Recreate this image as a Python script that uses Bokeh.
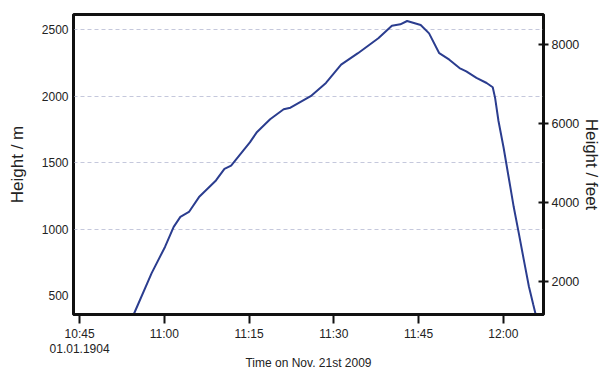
from bokeh.plotting import figure
from bokeh.models import Range1d, LinearAxis, FixedTicker
from bokeh.embed import file_html
from bokeh.resources import INLINE

# Clock times (Nov. 21st 2009) and height in metres
clock = ["10:54:00", "10:54:34", "10:57:45", "11:00:08", "11:01:39", "11:02:50",
         "11:04:21", "11:06:08", "11:09:08", "11:10:38", "11:11:49", "11:15:08",
         "11:16:19", "11:18:43", "11:21:07", "11:22:19", "11:25:54", "11:28:36",
         "11:31:17", "11:34:16", "11:37:52", "11:40:16", "11:41:46", "11:42:58",
         "11:45:22", "11:46:51", "11:48:39", "11:50:26", "11:52:14", "11:53:26",
         "11:55:14", "11:57:02", "11:58:07", "11:58:32", "11:59:08", "12:00:02",
         "12:00:56", "12:01:50", "12:02:44", "12:03:37", "12:04:31", "12:05:17",
         "12:05:43", "12:06:00"]
height_m = [300, 358, 669, 868, 1017, 1092,
            1129, 1241, 1366, 1453, 1478, 1652,
            1726, 1826, 1901, 1913, 2000, 2099,
            2237, 2323, 2435, 2530, 2540, 2565,
            2535, 2472, 2323, 2274, 2211, 2186,
            2137, 2099, 2067, 1987, 1813, 1614,
            1390, 1166, 968, 769, 569, 433,
            358, 300]

x_ticks = [0, 15, 30, 45, 60, 75]
x_tick_labels = ["10:45", "11:00", "11:15", "11:30", "11:45", "12:00"]
first_tick_date = "01.01.1904"
y_ticks_m = [500, 1000, 1500, 2000, 2500]
y_ticks_ft = [2000, 4000, 6000, 8000]


def minutes_after_1045(s):
    h, m, sec = (int(v) for v in s.split(":"))
    return (h * 60 + m + sec / 60.0) - (10 * 60 + 45)


t = [minutes_after_1045(s) for s in clock]

FONT = "Liberation Sans"
TXT = "#222222"

p = figure(width=604, height=372, output_backend="svg", toolbar_location=None,
           x_range=Range1d(-1.08, 82.1), y_range=Range1d(358, 2614),
           min_border_left=73, min_border_right=60, min_border_top=14,
           min_border_bottom=57, y_axis_location="left")
p.outline_line_color = "#111111"
p.outline_line_width = 3
p.background_fill_color = "white"
p.border_fill_color = "white"

p.line(t, height_m, line_color="#2b3d8f", line_width=2)

# x axis (times)
xa = p.xaxis[0]
xa.ticker = FixedTicker(ticks=x_ticks)
xa.major_label_overrides = {k: v for k, v in zip(x_ticks, x_tick_labels)}
xa.minor_tick_line_color = None
xa.major_tick_in = 0
xa.major_tick_out = 9
xa.major_tick_line_width = 2
xa.major_tick_line_color = "#111111"
xa.axis_line_width = 3
xa.axis_line_color = "#111111"
xa.major_label_text_font = FONT
xa.major_label_text_font_size = "12px"
xa.major_label_text_color = TXT
xa.major_label_standoff = 3

# second x axis below: date under the first tick, plus the axis title
xb = LinearAxis()
xb.ticker = FixedTicker(ticks=[x_ticks[0]])
xb.major_label_overrides = {x_ticks[0]: first_tick_date}
xb.minor_tick_line_color = None
xb.major_tick_line_color = None
xb.major_tick_in = 0
xb.major_tick_out = 0
xb.axis_line_color = None
xb.major_label_text_font = FONT
xb.major_label_text_font_size = "12px"
xb.major_label_text_color = TXT
xb.major_label_standoff = 0
xb.axis_label = "Time on Nov. 21st 2009"
xb.axis_label_text_font = FONT
xb.axis_label_text_font_size = "12px"
xb.axis_label_text_font_style = "normal"
xb.axis_label_text_color = TXT
xb.axis_label_standoff = 0
p.add_layout(xb, "below")

# left axis
ya = p.yaxis[0]
ya.ticker = FixedTicker(ticks=y_ticks_m)
ya.minor_tick_line_color = None
ya.major_tick_in = 0
ya.major_tick_out = 0
ya.axis_line_width = 2
ya.axis_line_color = "#111111"
ya.major_label_text_font = FONT
ya.major_label_text_font_size = "12px"
ya.major_label_text_color = TXT
ya.major_label_standoff = 5
ya.axis_label = "Height / m"
ya.axis_label_text_font = FONT
ya.axis_label_text_font_size = "17px"
ya.axis_label_text_font_style = "normal"
ya.axis_label_text_color = TXT
ya.axis_label_standoff = 12

# right axis (feet)
p.extra_y_ranges = {"ft": Range1d(1158, 8766)}
ra = LinearAxis(y_range_name="ft")
ra.ticker = FixedTicker(ticks=y_ticks_ft)
ra.minor_tick_line_color = None
ra.major_tick_in = 5
ra.major_tick_out = 5
ra.major_tick_line_width = 2
ra.major_tick_line_color = "#111111"
ra.axis_line_width = 2
ra.axis_line_color = "#111111"
ra.major_label_text_font = FONT
ra.major_label_text_font_size = "12.5px"
ra.major_label_text_color = TXT
ra.major_label_standoff = 3
ra.axis_label = "Height / feet"
ra.axis_label_text_font = FONT
ra.axis_label_text_font_size = "17px"
ra.axis_label_text_font_style = "normal"
ra.axis_label_text_color = TXT
ra.axis_label_standoff = 0
p.add_layout(ra, "right")

# grid
p.xgrid.grid_line_color = None
p.ygrid.ticker = FixedTicker(ticks=[1000, 1500, 2000, 2500])
p.ygrid.grid_line_color = "#c5c8dc"
p.ygrid.grid_line_dash = "4 3"
p.ygrid.grid_line_width = 1

open("out.html", "w").write(file_html(p, INLINE))
